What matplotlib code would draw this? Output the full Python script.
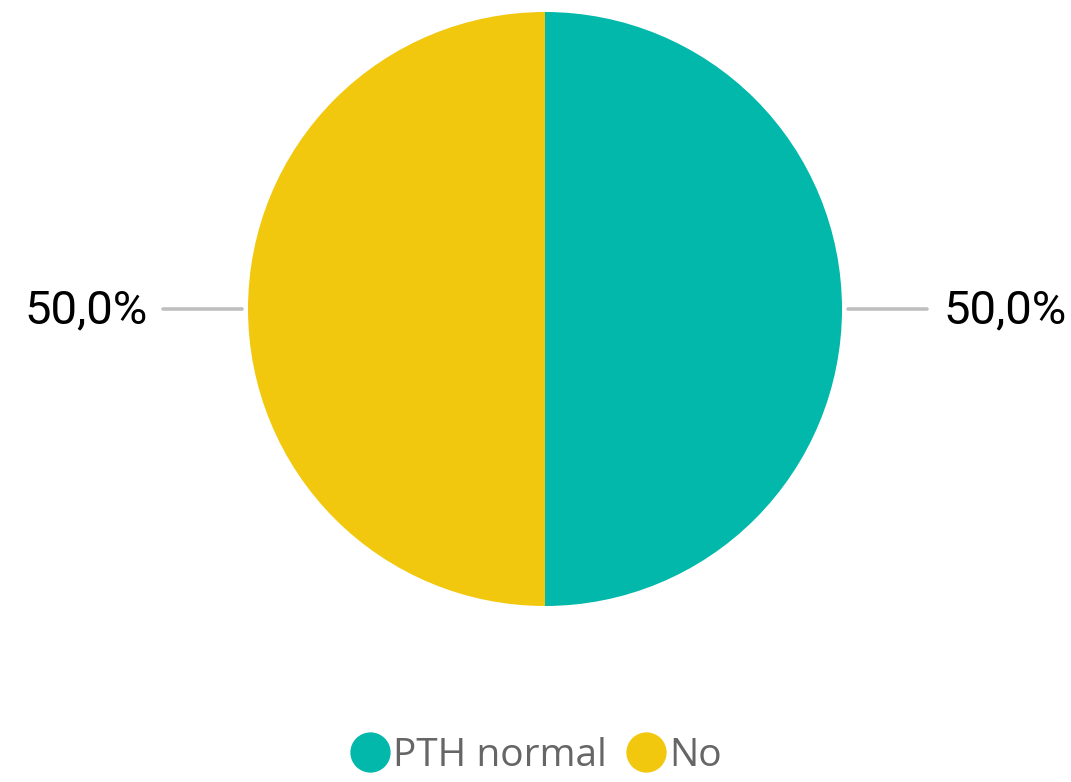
import matplotlib.pyplot as plt
from matplotlib.lines import Line2D

# Datos
categorias = ['PTH normal', 'No']
valores = [50.0, 50.0]
colores = ['#01B8AA', '#F2C80F']

W, H = 1071, 782
fig = plt.figure(figsize=(W / 100, H / 100), dpi=100)
ax = fig.add_axes([0, 0, 1, 1])

# Gráfico circular (centro y radio en píxeles)
cx, cy, r = 545, H - 309, 297
ax.pie(valores, colors=colores, startangle=90, counterclock=False,
       center=(cx, cy), radius=r, frame=True,
       wedgeprops=dict(linewidth=0))
ax.set_xlim(0, W)
ax.set_ylim(0, H)
ax.set_aspect('equal')
ax.axis('off')

# Etiquetas de datos con líneas guía
total = sum(valores)
etiquetas = [f'{v / total * 100:.1f}%'.replace('.', ',') for v in valores]
ax.plot([848, 927], [cy, cy], color='#BFBFBF', lw=2.6, solid_capstyle='round')
ax.text(943, cy - 1, etiquetas[0], ha='left', va='center', fontsize=34,
        family='Roboto', color='black')
ax.plot([163, 242], [cy, cy], color='#BFBFBF', lw=2.6, solid_capstyle='round')
ax.text(148, cy - 1, etiquetas[1], ha='right', va='center', fontsize=34,
        family='Roboto', color='black')

# Leyenda
handles = [Line2D([], [], marker='o', linestyle='', markersize=29,
                  markerfacecolor=c, markeredgewidth=0) for c in colores]
leg = ax.legend(handles, categorias, loc='center', bbox_to_anchor=(538 / W, 1 - 756 / H),
                ncol=2, frameon=False, handlelength=0.8, handletextpad=0.2,
                columnspacing=0.6, prop={'family': 'Open Sans', 'size': 28})
for t in leg.get_texts():
    t.set_color('#666666')

fig.savefig('out.png', dpi=100)
